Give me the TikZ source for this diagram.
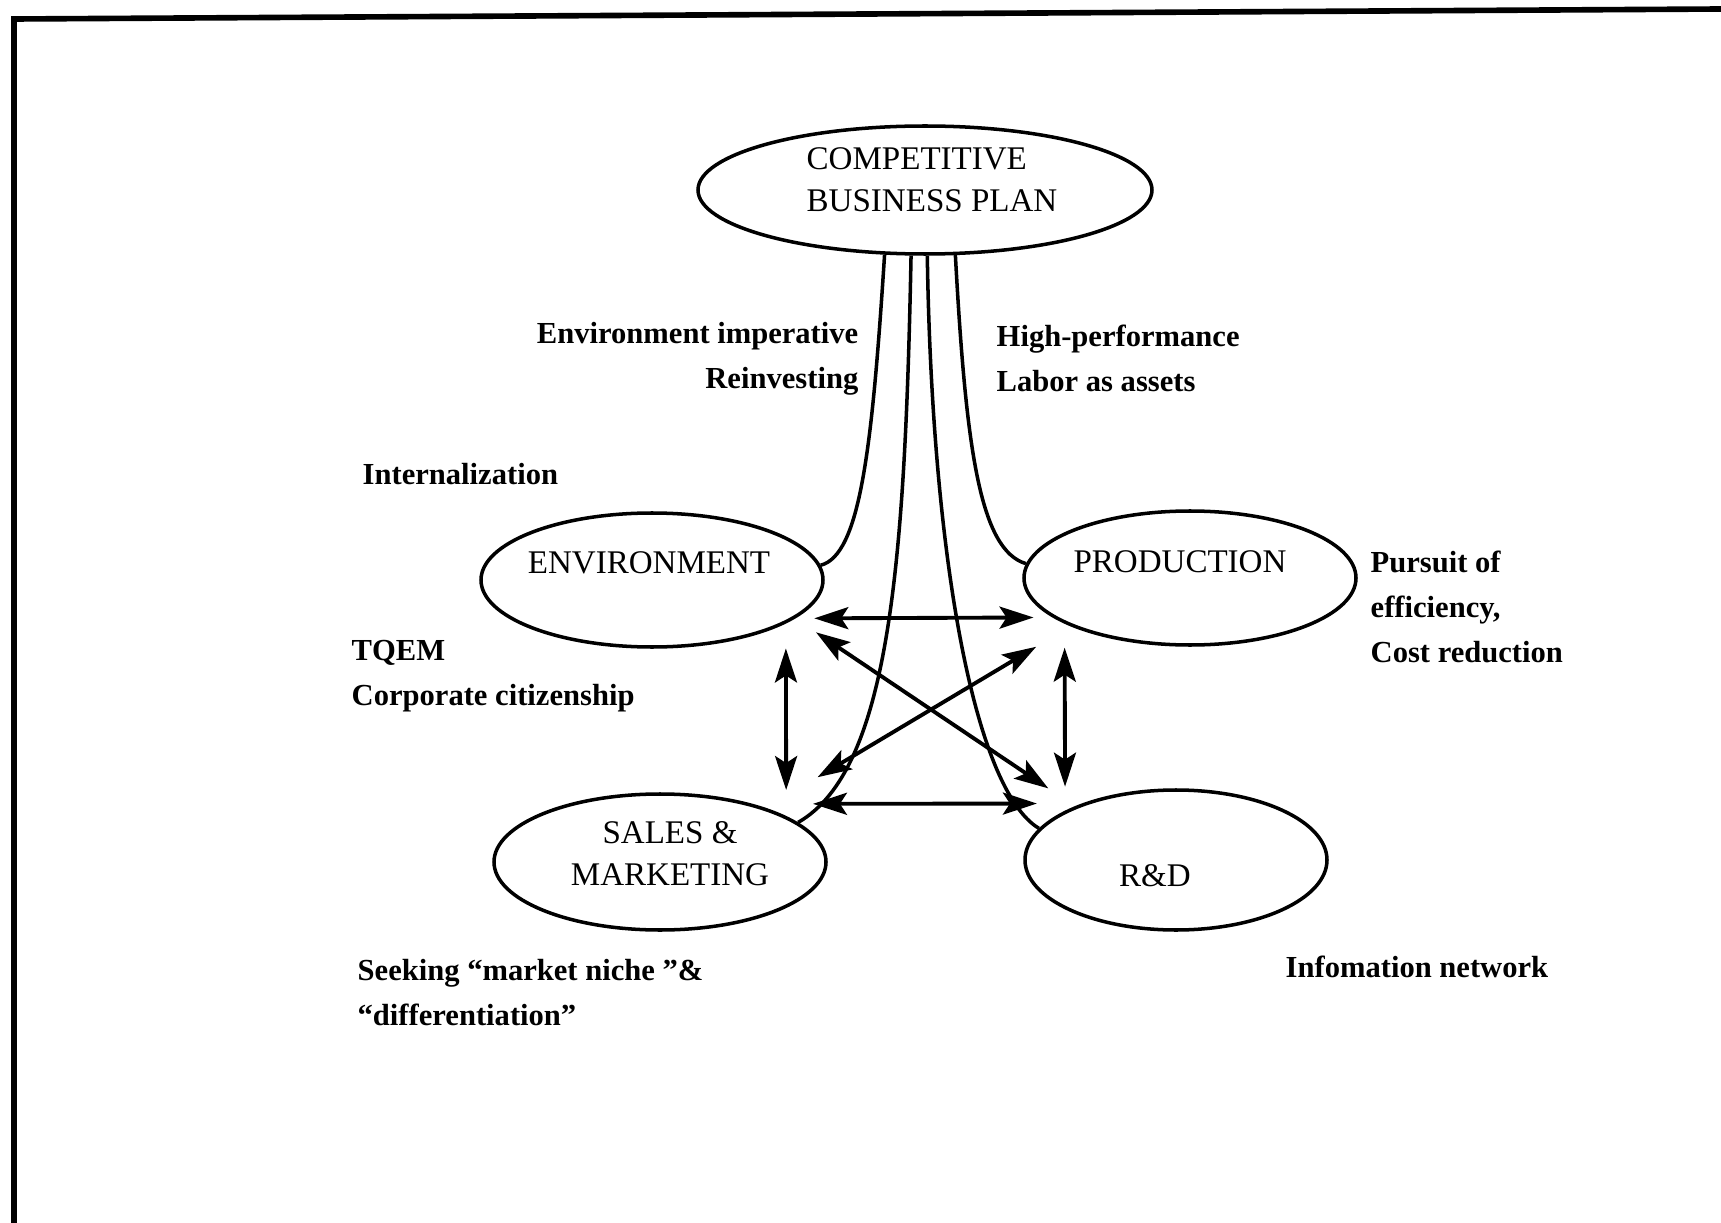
\documentclass[tikz,border=0pt]{standalone}
\usepackage{fontspec}
\setmainfont{Liberation Serif}
\usetikzlibrary{shapes.geometric,arrows.meta}
\begin{document}
\begin{tikzpicture}[x=0.1mm,y=-0.1mm,
  oval/.style={draw,ellipse,line width=1pt,inner sep=0pt},
  ovaltext/.style={inner sep=0pt,font=\fontsize{9.4}{12}\selectfont},
  note/.style={inner sep=0pt,font=\fontsize{8.7}{12.8}\selectfont\bfseries},
  link/.style={line width=1pt},
  both/.style={line width=1.1pt,{Stealth[length=3.4mm,width=2.2mm,inset=0.7mm]}-{Stealth[length=3.4mm,width=2.2mm,inset=0.7mm]}}]
\useasboundingbox (0,0) rectangle (1721,1223);
\draw[line width=1.6pt] (14,1223) -- (14,19) -- (1721,9);
\node[oval,minimum width=45.4mm,minimum height=12.8mm] (bp) at (925,190) {};
\node[oval,minimum width=34.2mm,minimum height=13.4mm] (env) at (652,580) {};
\node[oval,minimum width=33.2mm,minimum height=13.4mm] (prod) at (1190,578) {};
\node[oval,minimum width=33.2mm,minimum height=13.6mm] (sm) at (660,862) {};
\node[oval,minimum width=30.2mm,minimum height=14mm] (rd) at (1176,860) {};
\node[ovaltext,align=left,anchor=west] (bpname) at (806,180) {COMPETITIVE\\BUSINESS PLAN};
\node[ovaltext] (envname) at (649,563) {ENVIRONMENT};
\node[ovaltext] (prodname) at (1180,562) {PRODUCTION};
\node[ovaltext,align=center] (smname) at (670,854) {SALES \&\\MARKETING};
\node[ovaltext] (rdname) at (1155,876) {R\&D};
% the four strands hanging from the plan
\draw[link] (bp.238) .. controls (872,450) and (860,555) .. (env.5);
\draw[link] (bp.258) .. controls (905,560) and (890,770) .. (sm.16);
\draw[link] (bp.272) .. controls (932,560) and (975,790) .. (rd.167);
\draw[link] (bp.295) .. controls (966,450) and (980,550) .. (prod.175);
% two-way arrows
\draw[both,shorten <=1.9mm,shorten >=1.9mm] (env.-15) -- (prod.196.7);
\draw[both,shorten <=6mm,shorten >=4.5mm] (sm.32.2) -- (rd.149.5);
\draw[both,shorten <=2.5mm,shorten >=2.6mm] (env.-18.5) -- (sm.20.7);
\draw[both,shorten <=2.4mm,shorten >=2.4mm] (prod.200.1) -- (rd.156.1);
\draw[both,shorten <=2.5mm,shorten >=3.2mm] (env.-15.2) -- (rd.152.8);
\draw[both,shorten <=4mm,shorten >=6mm] (prod.202.1) -- (sm.27.9);
\node[note,align=right,anchor=east] (envnote) at (859,359) {Environment imperative\\Reinvesting};
\node[note,align=left,anchor=west] (prodnote) at (996,358) {High-performance\\Labor as assets};
\node[note,anchor=west] (intnote) at (362,474) {Internalization};
\node[note,align=left,anchor=west] (tqem) at (351,676) {TQEM\\Corporate citizenship};
\node[note,align=left,anchor=west] (effnote) at (1370,607) {Pursuit of\\efficiency,\\Cost reduction};
\node[note,align=left,anchor=west] (nichenote) at (357,993) {Seeking “market niche ”\&\\“differentiation”};
\node[note,anchor=west] (infonote) at (1285,967) {Infomation network};
\end{tikzpicture}
\end{document}
